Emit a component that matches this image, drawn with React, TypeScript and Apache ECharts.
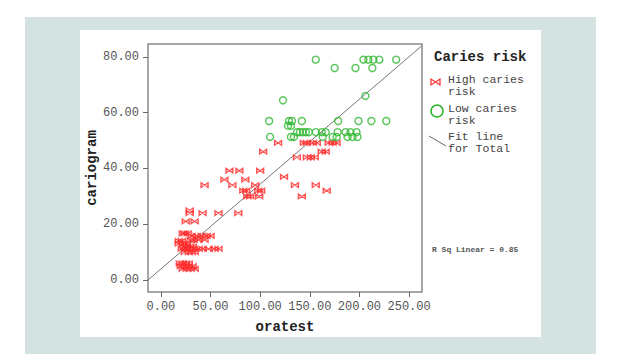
import React, { useEffect, useRef } from "react";
import * as echarts from "echarts";

const xTicks = [0, 50, 100, 150, 200, 250];
const yTicks = [0, 20, 40, 60, 80];

const lowRisk: number[][] = [
  [156, 79], [204, 79], [209, 79], [214, 79], [220, 79], [237, 79],
  [175, 76], [196, 76], [213, 76],
  [123, 64.4], [206, 66],
  [109, 57], [129, 57], [132, 57], [142, 57], [178.5, 57], [199, 57], [212, 57], [227, 57],
  [128, 55.3], [131, 55.3],
  [137, 53], [140, 53], [143, 53], [146, 53], [149, 53], [156, 53], [162, 53], [166, 53],
  [178, 53], [186, 53], [191, 53], [197, 53],
  [110, 51.3], [131, 51.3], [134, 51.3], [163, 51.3], [173, 51.3], [177, 51.3], [188, 51.3], [193, 51.3], [198, 51.3],
];

const highRisk: number[][] = [
  [118, 49.2], [144, 49.2], [147, 49.2], [153, 49.2], [157, 49.2], [169, 49.2], [173, 49.2], [177, 49.2],
  [103, 46], [162, 46], [166, 46],
  [137, 44], [147, 44], [151, 44], [155, 44],
  [69, 39.2], [79, 39.2], [100, 39.2],
  [124, 37],
  [64, 36], [85, 36],
  [44, 34], [72, 34], [95, 34], [135, 34], [156, 34],
  [83, 32], [86, 32], [98, 32], [101, 32], [167, 32],
  [87, 30], [90, 30], [99, 30], [142, 30],
  [29, 25], [29, 24], [42, 24], [58, 24], [78, 24],
  [25, 21], [34, 21],
  [22, 16.7], [24, 16.7], [27, 16.7],
  [31, 15.8], [36, 15.8], [41, 15.8], [46, 15.8], [50, 15.8],
  [18, 14], [21, 14], [30, 14.2], [33, 14.4], [38, 14.4], [44, 14.4],
  [18, 13], [22, 13], [26, 13],
  [23, 12], [26, 12], [29, 12], [32, 12],
  [21, 11.2], [25, 11.2], [29, 11.2], [33, 11.2], [38, 11.2], [42, 11.2], [48, 11.2], [54, 11.2], [58, 11.2],
  [24, 10], [28, 10], [31, 10], [34, 10],
  [19, 6], [22, 6], [25, 6], [28, 6],
  [20, 5], [24, 5], [28, 5], [32, 5],
  [22, 4], [26, 4], [30, 4], [34, 4],
];

const fitIntercept = 3.96;
const fitSlope = 0.3043;
const xRange = [-13, 263];
const yRange = [-4.3, 84.6];

const FONT = "'Liberation Mono', 'Courier New', monospace";
const BOWTIE = "path://M0,0L0,6L10,0L10,6Z";

function legendLine(text: string, y: number) {
  return {
    type: "text", x: 448, y,
    style: {
      text, font: `11.5px ${FONT}`, fill: "#444", lineHeight: 11,
      textVerticalAlign: "middle", verticalAlign: "middle",
    },
  };
}

export default function App() {
  const ref = useRef<HTMLDivElement>(null);
  useEffect(() => {
    document.body.style.margin = "0";
    if (!ref.current) return;
    const chart = echarts.init(ref.current, null, { renderer: "svg" });
    const fitData = xRange.map((x) => [x, fitIntercept + fitSlope * x]);
    chart.setOption({
      animation: false,
      backgroundColor: "transparent",
      grid: {
        left: 148, top: 44, width: 274, height: 248,
        show: true, borderColor: "#8a8a8a", borderWidth: 1.5, backgroundColor: "#fff",
      },
      xAxis: {
        type: "value", min: xRange[0], max: xRange[1],
        splitLine: { show: false },
        axisLine: { show: false, onZero: false },
        axisTick: { show: true, customValues: xTicks, length: 5, lineStyle: { color: "#666" } },
        axisLabel: {
          customValues: xTicks, margin: 9,
          formatter: (v: number) => v.toFixed(2),
          fontFamily: FONT, fontSize: 12, color: "#555",
        },
        name: "oratest", nameLocation: "middle", nameGap: 28,
        nameTextStyle: { fontFamily: FONT, fontSize: 14, fontWeight: "bold", color: "#222" },
      },
      yAxis: {
        type: "value", min: yRange[0], max: yRange[1],
        splitLine: { show: false },
        axisLine: { show: false, onZero: false },
        axisTick: { show: true, customValues: yTicks, length: 5, lineStyle: { color: "#666" } },
        axisLabel: {
          customValues: yTicks, margin: 9,
          formatter: (v: number) => v.toFixed(2),
          fontFamily: FONT, fontSize: 12, color: "#555",
        },
        name: "cariogram", nameLocation: "middle", nameGap: 46,
        nameTextStyle: { fontFamily: FONT, fontSize: 14, fontWeight: "bold", color: "#222" },
      },
      series: [
        {
          type: "line", data: fitData, symbol: "none", silent: true,
          lineStyle: { color: "#777", width: 1 }, z: 1,
        },
        {
          name: "High caries risk", type: "scatter", data: highRisk,
          symbol: BOWTIE, symbolSize: [7, 5],
          itemStyle: { color: "rgba(255,60,60,0.3)", borderColor: "#ff2a2a", borderWidth: 1.1 },
        },
        {
          name: "Low caries risk", type: "scatter", data: lowRisk,
          symbol: "circle", symbolSize: 7,
          itemStyle: { color: "rgba(255,255,255,0)", borderColor: "#2cb52c", borderWidth: 1.4 },
        },
      ],
      graphic: [
        { type: "text", x: 434, y: 57, style: { text: "Caries risk", font: `bold 14px ${FONT}`, fill: "#222", textVerticalAlign: "middle", verticalAlign: "middle" } },
        { type: "polygon", shape: { points: [[431, 79], [431, 85], [440, 79], [440, 85]] }, style: { fill: "none", stroke: "#ff2a2a", lineWidth: 1.2 } },
        legendLine("High caries", 79.5),
        legendLine("risk", 91.5),
        { type: "circle", shape: { cx: 437, cy: 111, r: 6 }, style: { fill: "none", stroke: "#2cb52c", lineWidth: 1.5 } },
        legendLine("Low caries", 108),
        legendLine("risk", 120),
        { type: "line", shape: { x1: 429, y1: 136, x2: 446, y2: 146 }, style: { stroke: "#666", lineWidth: 1 } },
        legendLine("Fit line", 136.5),
        legendLine("for Total", 148.5),
        { type: "text", x: 432, y: 249, style: { text: "R Sq Linear = 0.85", font: `bold 8px ${FONT}`, fill: "#555", textVerticalAlign: "middle", verticalAlign: "middle" } },
      ],
    });
    return () => chart.dispose();
  }, []);
  return (
    <div style={{ position: "relative", width: 617, height: 354, background: "#fff", overflow: "hidden" }}>
      <div style={{ position: "absolute", left: 25, top: 17, width: 571, height: 337, background: "#d4e2e2" }} />
      <div style={{ position: "absolute", left: 80, top: 30, width: 461, height: 307, background: "#fff" }} />
      <div ref={ref} style={{ position: "absolute", left: 0, top: 0, width: 617, height: 354 }} />
    </div>
  );
}
